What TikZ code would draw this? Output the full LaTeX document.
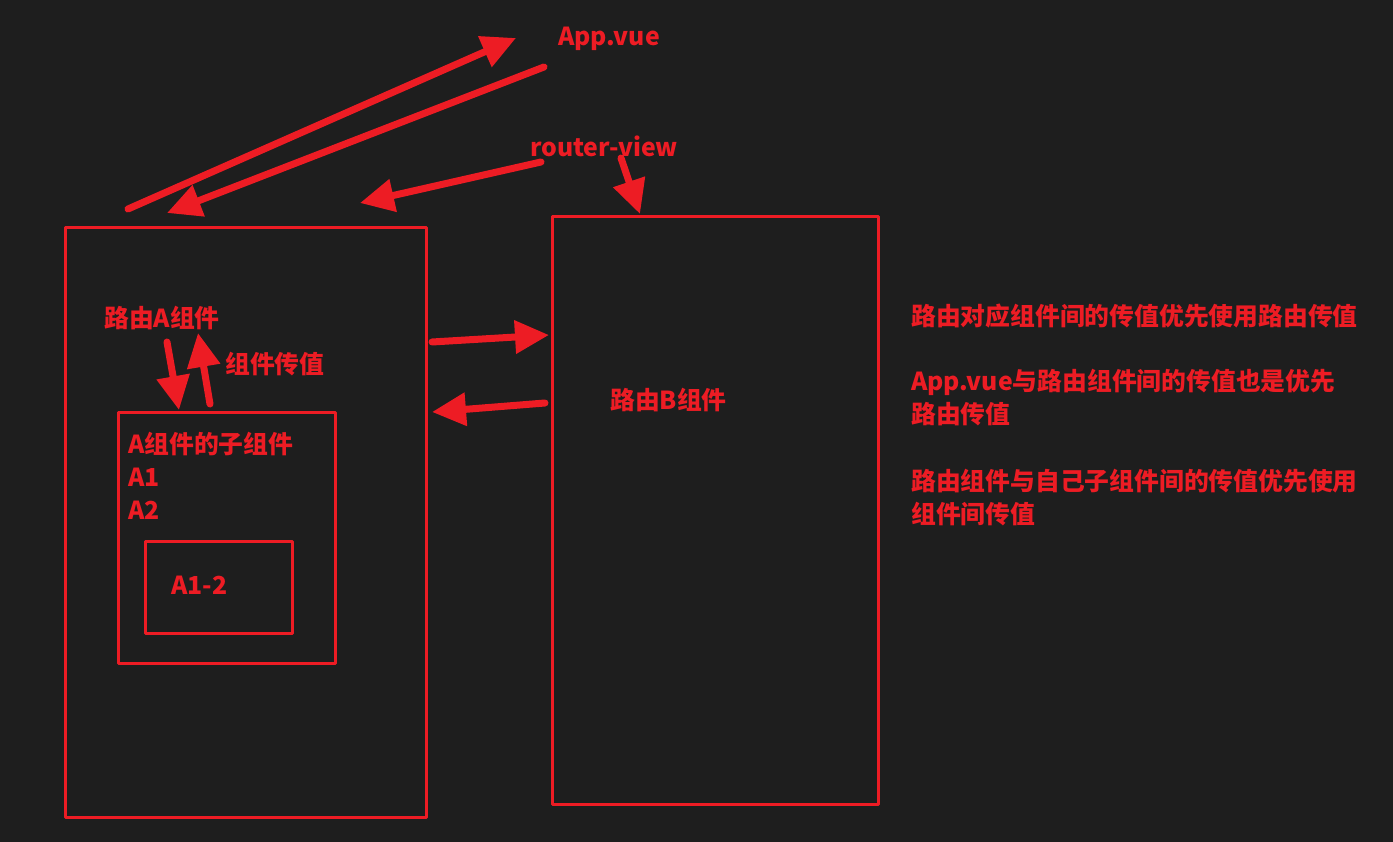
\documentclass[tikz,border=0pt]{standalone}
\usepackage{fontspec}
\setmainfont{Noto Sans CJK SC}
\usetikzlibrary{arrows.meta}
\definecolor{inkred}{HTML}{ED1C24}
\definecolor{board}{HTML}{1E1E1E}
\tikzset{
  panel/.style={draw=inkred, line width=2.8pt, anchor=north west, inner sep=0pt},
  label/.style={text=inkred, anchor=west, inner sep=0pt},
  flow/.style={draw=inkred, line width=7pt, line cap=round, -{Triangle[length=34pt,width=32pt]}}
}
\begin{document}
\begin{tikzpicture}[x=1pt, y=-1pt, font=\fontsize{24.8}{33}\selectfont\bfseries, line join=round]
    \fill[board] (0,0) rectangle (1393,842);
    \useasboundingbox (0,0) rectangle (1393,842);
    % boxes
    \node[panel, minimum width=361pt, minimum height=590pt] (routeA) at (64,226) {};
    \node[panel, minimum width=326pt, minimum height=588pt] (routeB) at (551,215) {};
    \node[panel, minimum width=217pt, minimum height=251pt] (childA) at (117,411) {};
    \node[panel, minimum width=147pt, minimum height=92pt] (childA12) at (144,540) {};
    % texts
    \node[label] (app) at (558,39) {App.vue};
    \node[label] (rview) at (530,146) {router-view};
    \node[label] (nameA) at (104,318) {路由A组件};
    \node[label] (pass) at (225,364) {组件传值};
    \node[label] (nameChild) at (128,444) {A组件的子组件};
    \node[label] (a1) at (128,477) {A1};
    \node[label] (a2) at (128,510) {A2};
    \node[label] (a12) at (171,585) {A1-2};
    \node[label] (nameB) at (610,400) {路由B组件};
    \node[label] (note1) at (911,316) {路由对应组件间的传值优先使用路由传值};
    \node[label] (note2) at (911,382) {App.vue与路由组件间的传值也是优先};
    \node[label] (note2b) at (911,414) {路由传值};
    \node[label] (note3) at (911,481) {路由组件与自己子组件间的传值优先使用};
    \node[label] (note3b) at (911,514) {组件间传值};
    % arrow ends
    \coordinate (up1) at (128,209);   \coordinate (up1t) at (516,38);
    \coordinate (dn1) at (544,67);    \coordinate (dn1t) at (167,213);
    \coordinate (rv1) at (541,162);   \coordinate (rv1t) at (360,203);
    \coordinate (rv2) at (621,158);   \coordinate (rv2t) at (640,214);
    \coordinate (ab) at (432,342);    \coordinate (abt) at (549,335);
    \coordinate (ba) at (545,403);    \coordinate (bat) at (432,412);
    \coordinate (pdn) at (167,342);   \coordinate (pdnt) at (179,410);
    \coordinate (pup) at (210,404);   \coordinate (pupt) at (198,333);
    \foreach \s/\t in {up1/up1t, dn1/dn1t, rv1/rv1t, rv2/rv2t, ab/abt, ba/bat, pdn/pdnt, pup/pupt}
        \draw[flow] (\s) -- (\t);
\end{tikzpicture}
\end{document}
